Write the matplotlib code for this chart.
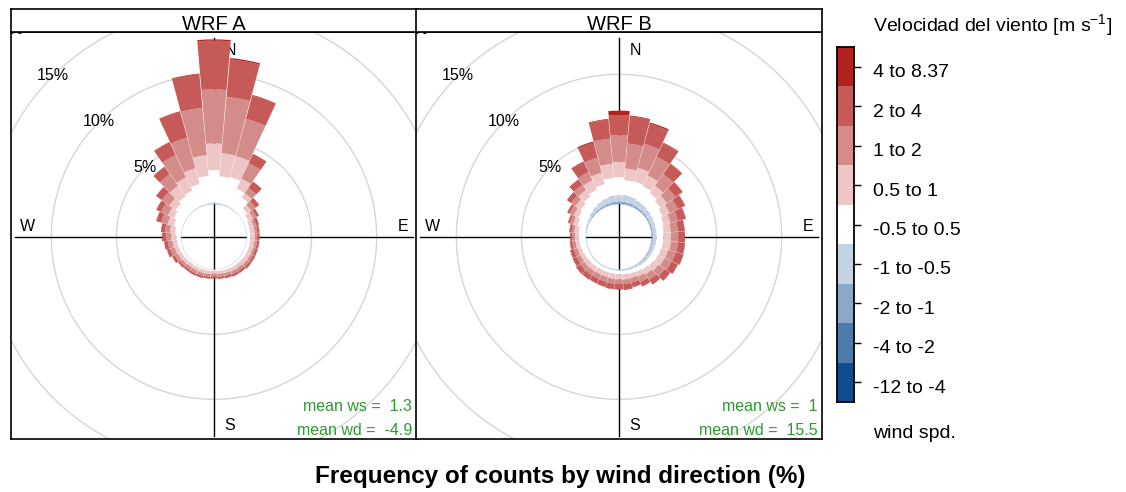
import numpy as np
import matplotlib
matplotlib.use('Agg')
import matplotlib.pyplot as plt
import matplotlib.transforms as mtransforms
from matplotlib.patches import Wedge, Circle

plt.rcParams['font.family'] = ['Liberation Sans', 'DejaVu Sans']
plt.rcParams['mathtext.default'] = 'regular'

W, H = 1126, 492

directions = np.arange(0, 360, 10)

speed_labels = ['-12 to -4', '-4 to -2', '-2 to -1', '-1 to -0.5', '-0.5 to 0.5',
                '0.5 to 1', '1 to 2', '2 to 4', '4 to 8.37']
speed_colors = ['#0f4e8e', '#4c7baa', '#8aa9c8', '#c3d3e3', '#ffffff',
                '#eec6c6', '#d38c8a', '#c65a58', '#b2221f']

# frequency (%) for each direction (rows, 0..350 deg), columns follow speed_labels
wrf_a_freq = [
    [0, 0, .04, .11, 2.48, 2.05, 4.15, 3.75, .10],
    [0, 0, .04, .08, 2.05, 1.79, 4.34, 2.90, .10],
    [0, 0, .02, .08, 2.16, 1.67, 2.97, 1.85, .05],
    [0, 0, .02, .06, 1.52, .85, 1.31, .79, 0],
    [0, 0, .02, .04, 1.14, .40, .50, .60, 0],
    [0, 0, .02, .03, .55, .40, .40, .33, .02],
    [0, 0, .02, .03, .35, .40, .30, .20, .02],
    [0, 0, .02, .03, .25, .35, .20, .20, .03],
    [0, 0, .02, .03, .25, .35, .20, .15, .02],
    [0, 0, .02, .03, .25, .35, .18, .17, 0],
    [0, 0, .02, .03, .25, .32, .20, .18, 0],
    [0, 0, .02, .03, .23, .32, .20, .20, 0],
    [0, 0, .02, .03, .23, .32, .20, .18, .02],
    [0, 0, .02, .03, .20, .33, .22, .18, .02],
    [0, 0, .02, .03, .17, .28, .22, .18, .02],
    [0, 0, .02, .03, .15, .28, .22, .18, .02],
    [0, 0, .02, .03, .13, .24, .23, .15, .02],
    [0, 0, .02, .03, .10, .23, .22, .15, .01],
    [0, 0, .02, .03, .07, .23, .20, .15, .02],
    [0, 0, .02, .03, .09, .24, .20, .14, .02],
    [0, 0, .02, .03, .10, .25, .22, .16, .02],
    [0, 0, .02, .03, .10, .25, .25, .15, .02],
    [0, 0, .02, .03, .11, .26, .23, .15, .02],
    [0, 0, .02, .03, .15, .28, .22, .15, .03],
    [0, 0, .02, .03, .20, .30, .27, .20, .03],
    [0, 0, .02, .03, .25, .32, .36, .24, .03],
    [0, 0, .02, .03, .30, .35, .35, .28, .02],
    [0, 0, .02, .03, .35, .40, .40, .28, .02],
    [0, 0, .02, .03, .45, .40, .40, .28, .02],
    [0, 0, .02, .03, .65, .50, .50, .38, .02],
    [0, 0, .02, .04, .84, .50, .60, .38, .02],
    [0, 0, .02, .04, 1.04, .60, .70, .53, .02],
    [0, 0, .02, .05, 1.23, 1.00, 1.10, .67, .03],
    [0, 0, .02, .06, 1.34, 1.13, 1.90, 1.07, .03],
    [0, 0, .03, .07, 1.60, 1.26, 2.44, 2.05, .05],
    [0, 0, .04, .08, 2.08, 1.60, 3.65, 2.60, .05],
]

wrf_b_freq = [
    [0, .03, .17, .50, 1.40, 1.17, 2.03, 1.57, .33],
    [0, .03, .18, .54, 1.12, .91, 1.92, 2.10, .06],
    [0, .03, .17, .50, 1.20, 1.10, 1.90, 1.60, .10],
    [0, .02, .15, .43, 1.20, .90, 1.60, 1.15, .05],
    [0, .02, .13, .40, 1.05, .70, 1.10, .95, .03],
    [0, .02, .12, .36, .90, .60, .80, .65, .03],
    [0, .02, .10, .33, .75, .60, .70, .60, .02],
    [0, .02, .10, .30, .63, .55, .60, .60, .03],
    [0, .02, .10, .28, .55, .55, .55, .51, .02],
    [0, .02, .10, .28, .50, .60, .56, .50, .02],
    [0, .02, .09, .27, .52, .60, .55, .53, .02],
    [0, .02, .08, .25, .50, .55, .60, .60, .03],
    [0, .02, .08, .22, .48, .55, .60, .52, .03],
    [0, .02, .07, .21, .40, .50, .60, .47, .03],
    [0, 0, .06, .19, .35, .45, .50, .42, .03],
    [0, 0, .05, .15, .30, .40, .45, .35, .03],
    [0, 0, .04, .14, .27, .35, .35, .35, .03],
    [0, 0, .03, .12, .25, .40, .35, .40, .05],
    [0, 0, .03, .09, .25, .41, .36, .38, .03],
    [0, 0, .02, .08, .25, .40, .37, .40, .03],
    [0, 0, .02, .08, .25, .37, .38, .37, .03],
    [0, 0, .02, .08, .25, .37, .38, .35, .03],
    [0, 0, .02, .08, .28, .37, .37, .38, .03],
    [0, 0, .02, .08, .30, .38, .37, .37, .03],
    [0, 0, .02, .06, .37, .33, .32, .32, .03],
    [0, 0, .02, .06, .42, .30, .30, .27, .03],
    [0, 0, .02, .05, .48, .30, .25, .18, .02],
    [0, 0, .02, .05, .51, .30, .21, .16, .02],
    [0, 0, .02, .08, .52, .33, .20, .17, .02],
    [0, 0, .03, .12, .65, .35, .25, .15, .02],
    [0, 0, .05, .15, .75, .40, .35, .18, .02],
    [0, .02, .07, .21, .80, .50, .40, .37, .03],
    [0, .02, .10, .28, .90, .60, .50, .45, .05],
    [0, .02, .12, .36, 1.00, .80, .70, .85, .05],
    [0, .02, .15, .43, 1.10, .90, 1.20, 1.20, .09],
    [0, .03, .17, .50, 1.34, 1.10, 1.94, 1.47, .05],
]

panel_titles = ['WRF A', 'WRF B']
mean_ws = ['1.3', '1']
mean_wd = ['-4.9', '15.5']

ring_levels = [5, 10, 15, 20]
offset = 2.5          # radius of the empty centre, in % units
half_width = 4.88     # half angular width of each direction bar (deg)


def draw_rose(ax, freq, ws, wd):
    ax.set_xlim(-15.6, 15.6)
    ax.set_ylim(-15.55, 15.75)
    ax.set_xticks([])
    ax.set_yticks([])
    for sp in ax.spines.values():
        sp.set_linewidth(1.2)

    # grid rings and their labels along the NW diagonal
    ang = np.radians(135)
    for k in ring_levels:
        r = offset + k
        ax.add_patch(Circle((0, 0), r, fill=False, ec='#d6d6d6', lw=1.0, zorder=1))
        ax.text(r * np.cos(ang), r * np.sin(ang), f'{k}%', ha='center', va='center',
                fontsize=11.5, zorder=2, clip_on=True)

    ax.plot([-15.3, 15.3], [0, 0], color='black', lw=1.0, zorder=1.5)
    ax.plot([0, 0], [-15.3, 15.3], color='black', lw=1.0, zorder=1.5)

    for lab, (x, y) in zip('NESW', [(1.25, 14.35), (14.5, 0.8), (1.2, -14.5), (-14.3, 0.8)]):
        ax.text(x, y, lab, ha='center', va='center', fontsize=11.5, zorder=2)

    # stacked bars, innermost bin first
    cum = np.cumsum(np.asarray(freq), axis=1)
    for d, row in zip(directions, cum):
        lo = 0.0
        for hi, col in zip(row, speed_colors):
            if hi > lo:
                ax.add_patch(Wedge((0, 0), offset + hi, 90 - d - half_width, 90 - d + half_width,
                                   width=hi - lo, fc=col, ec='none', zorder=3))
            lo = hi

    ax.text(0.988, 0.081, f'mean ws =  {ws}', transform=ax.transAxes, ha='right',
            va='center', fontsize=11.5, color='#2e9a2e', zorder=4)
    ax.text(0.988, 0.022, f'mean wd =  {wd}', transform=ax.transAxes, ha='right',
            va='center', fontsize=11.5, color='#2e9a2e', zorder=4)


fig = plt.figure(figsize=(W / 100, H / 100), dpi=100)

lefts = [11, 416]
for i, freq in enumerate([wrf_a_freq, wrf_b_freq]):
    ax = fig.add_axes([lefts[i] / W, 1 - 439 / H, 406 / W, 407 / H])
    draw_rose(ax, freq, mean_ws[i], mean_wd[i])

    strip = fig.add_axes([lefts[i] / W, 1 - 32 / H, 406 / W, 23 / H])
    strip.set_xticks([])
    strip.set_yticks([])
    for sp in strip.spines.values():
        sp.set_linewidth(1.2)
    strip.text(0.5, 0.33, panel_titles[i], ha='center', va='center', fontsize=14.5)

# colour key
cax = fig.add_axes([837 / W, 1 - 402 / H, 17 / W, 355 / H])
cax.bar(0, 1, bottom=np.arange(len(speed_labels)), color=speed_colors, width=1)
cax.set_xlim(-0.5, 0.5)
cax.set_ylim(0, len(speed_labels))
cax.set_xticks([])
cax.set_yticks(np.arange(len(speed_labels)) + 0.5)
cax.set_yticklabels(speed_labels)
cax.tick_params(axis='y', left=False, right=True, labelleft=False, labelright=True,
                length=5, width=1, labelsize=14, pad=8.5)
for sp in cax.spines.values():
    sp.set_linewidth(1.3)
shift = mtransforms.ScaledTranslation(0, -0.04, fig.dpi_scale_trans)
for lab in cax.get_yticklabels():
    lab.set_transform(lab.get_transform() + shift)

fig.text(873 / W, 1 - 25 / H, r'Velocidad del viento [m s$^{-1}$]', fontsize=14,
         ha='left', va='center')
fig.text(873 / W, 1 - 433 / H, 'wind spd.', fontsize=14, ha='left', va='center')
fig.text(560 / W, 1 - 476 / H, 'Frequency of counts by wind direction (%)',
         fontsize=17.5, weight='bold', ha='center', va='center')

fig.savefig('out.png', dpi=100)
